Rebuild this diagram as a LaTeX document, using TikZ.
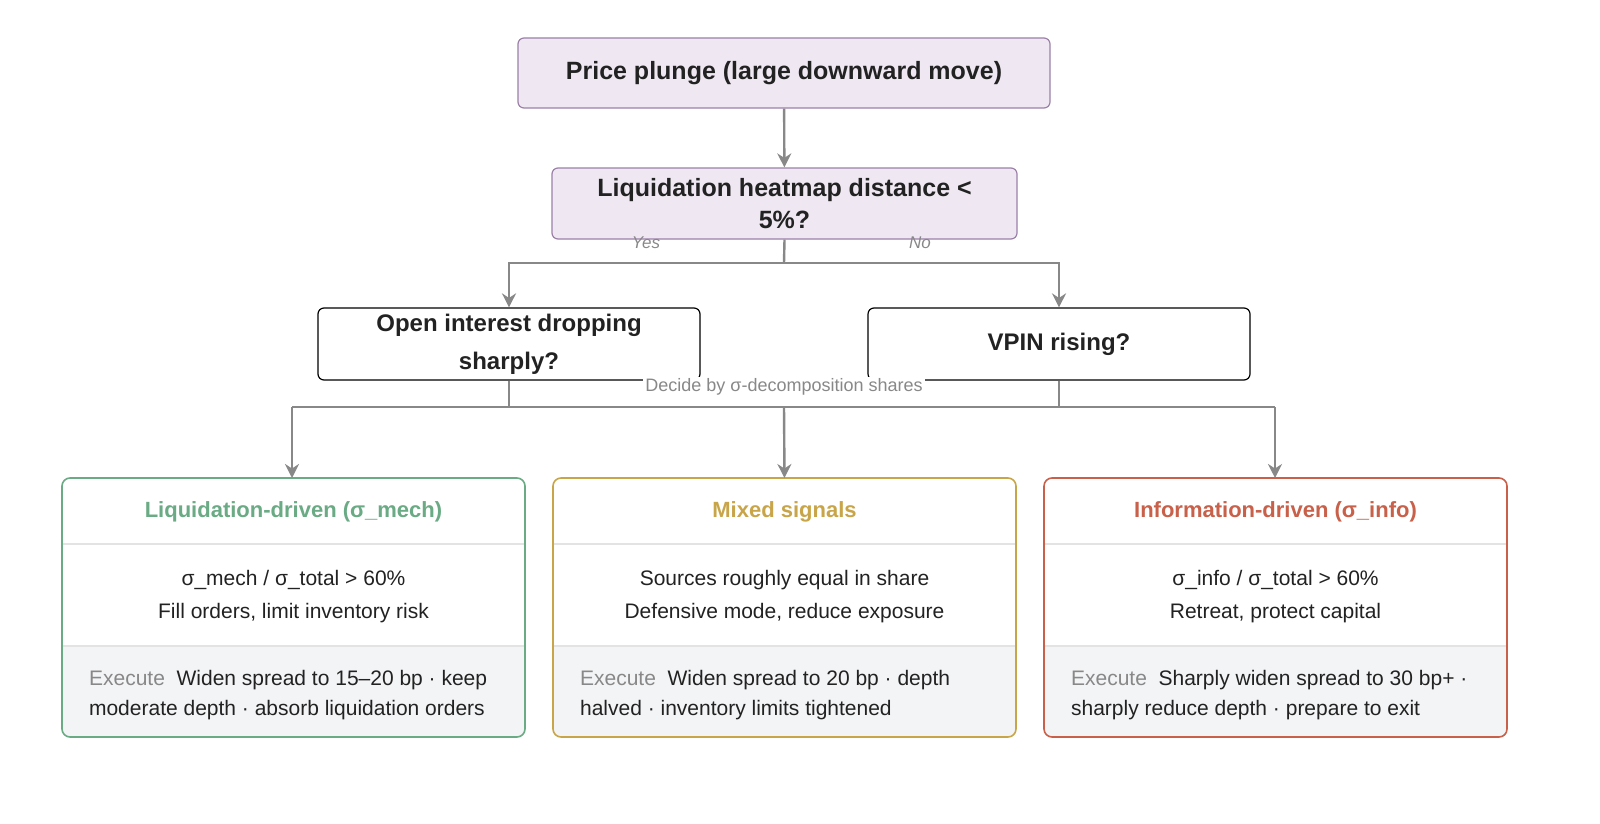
\documentclass[tikz,border=0pt]{standalone}
\usepackage{fontspec}
\setmainfont{Liberation Sans}
\usetikzlibrary{arrows.meta}
\definecolor{lav}{HTML}{EFE8F3}
\definecolor{lavb}{HTML}{9B80A8}
\definecolor{conn}{HTML}{888888}
\definecolor{gr}{HTML}{6AAA84}
\definecolor{gd}{HTML}{C9A54A}
\definecolor{rd}{HTML}{C8604A}
\definecolor{foot}{HTML}{F3F4F6}
\definecolor{sep}{HTML}{E3E3E3}
\definecolor{txt}{HTML}{222222}
\begin{document}
\begin{tikzpicture}[x=0.5pt,y=-0.5pt,
  lbox/.style={draw=lavb,fill=lav,rounded corners=3pt,line width=0.6pt,text=txt,font=\bfseries\fontsize{12.5}{16}\selectfont,align=center,inner sep=0},
  wbox/.style={draw=black,fill=white,rounded corners=3pt,line width=0.6pt,text=txt,font=\bfseries\fontsize{12}{19}\selectfont,align=center,inner sep=0},
  arr/.style={draw=conn,line width=1.2pt,-{Stealth[length=7pt,width=7pt]}},
  ln/.style={draw=conn,line width=1.2pt},
  lab/.style={text=conn,font=\itshape\fontsize{8.5}{10}\selectfont},
  body/.style={text=txt,font=\fontsize{10.5}{16.5}\selectfont,align=center},
  ex/.style={text=txt,font=\fontsize{10.5}{15}\selectfont,align=left,anchor=north west}]
\useasboundingbox (0,0) rectangle (1600,824);
\node[lbox,minimum width=266pt,minimum height=35pt] (top) at (784,73) {Price plunge (large downward move)};
\node[lbox,minimum width=232.5pt,minimum height=35.5pt] (q1) at (784.5,203.5) {Liquidation heatmap distance <\\5\%?};
\node[wbox,minimum width=191pt,minimum height=36pt] (q2) at (509,344) {Open interest dropping\\sharply?};
\node[wbox,minimum width=191pt,minimum height=36pt] (q3) at (1059,344) {VPIN rising?};
\draw[arr] (top) -- (q1);
\coordinate (s1) at (784,263);
\draw[ln] (q1.south) -- (s1);
\draw[arr] (s1) -| (q2.north);
\draw[arr] (s1) -| (q3.north);
\node[lab] (yes) at (646,243) {Yes};
\node[lab] (no) at (920,243) {No};
% cards
\foreach \n/\x/\c/\t/\ba/\bb/\ea/\eb in {
 c1/62/gr/{Liquidation-driven (σ\_mech)}/{σ\_mech / σ\_total > 60\%}/{Fill orders, limit inventory risk}/{Widen spread to 15–20 bp · keep}/{moderate depth · absorb liquidation orders},
 c2/553/gd/{Mixed signals}/{Sources roughly equal in share}/{Defensive mode, reduce exposure}/{Widen spread to 20 bp · depth}/{halved · inventory limits tightened},
 c3/1044/rd/{Information-driven (σ\_info)}/{σ\_info / σ\_total > 60\%}/{Retreat, protect capital}/{Sharply widen spread to 30 bp+ ·}/{sharply reduce depth · prepare to exit}}{
  \begin{scope}
  \path[clip,rounded corners=4pt] (\x,478) rectangle ++(463,259);
  \fill[white] (\x,478) rectangle ++(463,259);
  \fill[foot] (\x,646) rectangle ++(463,91);
  \draw[sep,line width=0.8pt] (\x,544) -- ++(463,0);
  \draw[sep,line width=0.8pt] (\x,646) -- ++(463,0);
  \end{scope}
  \draw[\c,rounded corners=4pt,line width=0.8pt] (\x,478) rectangle ++(463,259);
  \coordinate (\n) at (\x+231.5,478);
  \node[text=\c,font=\bfseries\fontsize{11}{13}\selectfont] at (\x+231.5,512) {\t};
  \node[body] at (\x+231.5,597) {\ba\\\bb};
  \node[ex] at (\x+20,663) {{\color{conn}Execute}\ \ \ea\\\eb};
}
\coordinate (j1) at (509,407);
\coordinate (j2) at (1059,407);
\draw[ln] (q2.south) -- (j1);
\draw[ln] (q3.south) -- (j2);
\draw[ln] (292,407) -- (1275,407);
\draw[arr] (292,407) -- (c1 -| 292,478);
\draw[arr] (784,407) -- (c2);
\draw[arr] (1275,407) -- (1275,478);
\node[text=conn,font=\fontsize{9}{10}\selectfont,fill=white,inner sep=1pt] (dec) at (784,387) {Decide by σ-decomposition shares};
\end{tikzpicture}
\end{document}
